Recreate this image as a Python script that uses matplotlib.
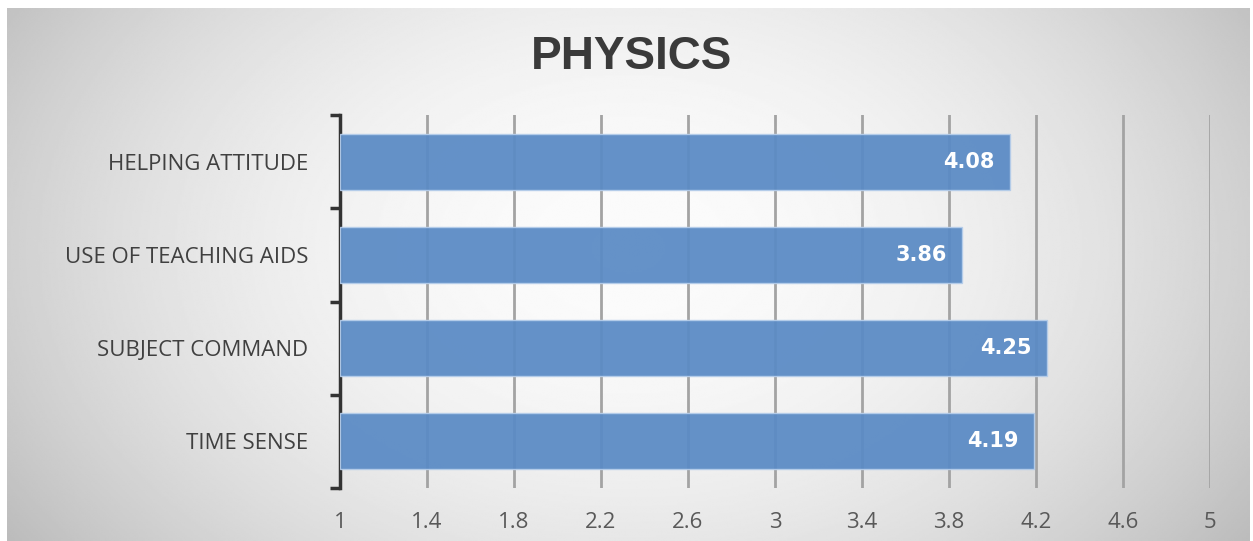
import numpy as np
import matplotlib.pyplot as plt

categories = ["TIME SENSE", "SUBJECT COMMAND", "USE OF TEACHING AIDS", "HELPING ATTITUDE"]
scores = [4.19, 4.25, 3.86, 4.08]
x_ticks = [1, 1.4, 1.8, 2.2, 2.6, 3, 3.4, 3.8, 4.2, 4.6, 5]
x_labels = ["1", "1.4", "1.8", "2.2", "2.6", "3", "3.4", "3.8", "4.2", "4.6", "5"]

W, H = 1253, 541
fig = plt.figure(figsize=(W / 100, H / 100), dpi=100)
fig.patch.set_facecolor("white")

# radial grey gradient behind the chart
bg = fig.add_axes([7 / W, 0, 1 - 10 / W, 1 - 8 / H])
yy, xx = np.mgrid[0:1:300j, 0:1:700j]
r = np.sqrt(((xx - 0.5) / 0.5) ** 2 + ((yy - 0.45) / 0.8) ** 2)
shade = np.clip(0.985 - 0.17 * r ** 2, 0, 1)
bg.imshow(shade, cmap="gray", vmin=0, vmax=1, aspect="auto", interpolation="bilinear")
bg.set_axis_off()

ax = fig.add_axes([340 / W, 1 - 488 / H, (1210 - 340) / W, (488 - 115) / H])
ax.patch.set_alpha(0)

y = np.arange(len(categories))
ax.barh(y, [s - 1 for s in scores], left=1, height=0.6, color="#5b8bc5",
        edgecolor="#b5cdea", linewidth=1, alpha=0.94, zorder=3)

for yi, s in zip(y, scores):
    ax.text(s - 0.07, yi, f"{s:.2f}", ha="right", va="center", color="white",
            fontsize=15, fontweight="bold", family="DejaVu Sans", zorder=4)

ax.set_xlim(1, 5)
ax.set_ylim(-0.5, len(categories) - 0.5)
ax.set_xticks(x_ticks)
ax.set_xticklabels(x_labels)
ax.grid(axis="x", color="#a3a3a3", linewidth=2, zorder=1)
ax.tick_params(axis="x", length=0, pad=17, labelsize=16, labelcolor="#595959")

ax.set_yticks(y)
ax.set_yticklabels(categories)
ax.set_yticks(np.arange(-0.5, len(categories)), minor=True)
ax.tick_params(axis="y", which="major", length=0, pad=23, labelsize=16, labelcolor="#404040")
ax.tick_params(axis="y", which="minor", length=7, width=2.5, color="#333333", direction="out")
for lab in ax.get_xticklabels() + ax.get_yticklabels():
    lab.set_family("Open Sans")

for side in ["top", "right", "bottom"]:
    ax.spines[side].set_visible(False)
ax.spines["left"].set_color("#333333")
ax.spines["left"].set_linewidth(2.5)

fig.text(631 / W, 1 - 57 / H, "PHYSICS", ha="center", va="center", fontsize=33,
         fontweight="bold", color="#3a3a3a", family="Liberation Sans")

fig.savefig("out.png", dpi=100)
